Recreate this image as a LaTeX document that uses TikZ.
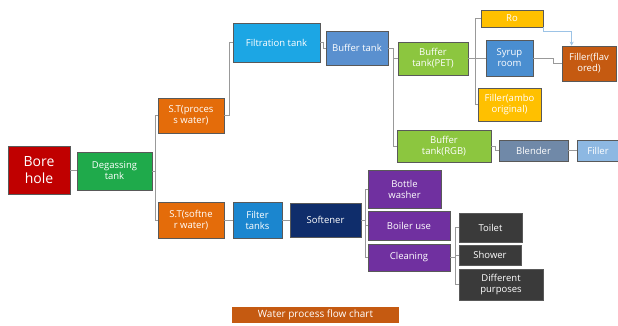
\documentclass[tikz,border=0pt]{standalone}
\usepackage{fontspec}
\setmainfont{Open Sans}
\usetikzlibrary{calc,arrows.meta}
\definecolor{cBore}{HTML}{C00000}
\definecolor{cDegas}{HTML}{1FAA4B}
\definecolor{cOrange}{HTML}{E46C0A}
\definecolor{cFilt}{HTML}{1CA6E4}
\definecolor{cBuf}{HTML}{5A90CF}
\definecolor{cLGreen}{HTML}{8CC63F}
\definecolor{cGold}{HTML}{FFC000}
\definecolor{cSyrup}{HTML}{4A8ED0}
\definecolor{cBrown}{HTML}{C55A11}
\definecolor{cBlender}{HTML}{7089A8}
\definecolor{cFiller}{HTML}{8DB8E2}
\definecolor{cFtank}{HTML}{1B86CF}
\definecolor{cSoft}{HTML}{0F2D6B}
\definecolor{cPurple}{HTML}{7030A0}
\definecolor{cDark}{HTML}{3A3A3A}
\definecolor{cLine}{HTML}{999999}
\definecolor{cArrow}{HTML}{9CC3E6}
\begin{document}
\begin{tikzpicture}[x=1pt,y=-1pt,
  box/.style={draw=black!65, line width=0.7pt, text=white, inner sep=0pt, align=center,
    font=\fontsize{9.5}{11}\selectfont},
  conn/.style={draw=cLine, line width=0.9pt},
]
\useasboundingbox[fill=white] (0,0) rectangle (618,325);
% nodes
\node[box, fill=cBore, minimum width=62pt, minimum height=48pt, font=\fontsize{14}{17}\selectfont] (bore) at (39,170) {Bore\\hole};
\node[box, fill=cDegas, minimum width=75pt, minimum height=38pt] (degas) at (114.5,171) {Degassing\\tank};
\node[box, fill=cOrange, minimum width=66pt, minimum height=35pt] (stp) at (191,115.5) {S.T(proces\\s water)};
\node[box, fill=cOrange, minimum width=66pt, minimum height=36pt] (sts) at (191,220) {S.T(softne\\r water)};
\node[box, fill=cFilt, minimum width=87pt, minimum height=39pt] (filt) at (276.5,42.5) {Filtration tank};
\node[box, fill=cBuf, minimum width=62pt, minimum height=34pt] (buf) at (357,48) {Buffer tank};
\node[box, fill=cLGreen, minimum width=70pt, minimum height=33pt] (pet) at (433,58.5) {Buffer\\tank(PET)};
\node[box, fill=cGold, minimum width=62pt, minimum height=17pt] (ro) at (512,18.5) {Ro};
\node[box, fill=cSyrup, minimum width=47pt, minimum height=36pt] (syrup) at (509.5,58) {Syrup\\room};
\node[box, fill=cBrown, minimum width=54pt, minimum height=35pt] (flav) at (589,63.5) {Filler(flav\\ored)};
\node[box, fill=cGold, minimum width=63pt, minimum height=33pt] (ambo) at (509.5,104.5) {Filler(ambo\\original)};
\node[box, fill=cLGreen, minimum width=94pt, minimum height=32pt] (rgb) at (444,146) {Buffer\\tank(RGB)};
\node[box, fill=cBlender, minimum width=69pt, minimum height=21pt] (blender) at (533.5,150.5) {Blender};
\node[box, fill=cFiller, minimum width=42pt, minimum height=21pt] (filler) at (598,150.5) {Filler};
\node[box, fill=cFtank, minimum width=49pt, minimum height=36pt] (ftanks) at (257.5,220) {Filter\\tanks};
\node[box, fill=cSoft, minimum width=71pt, minimum height=34pt] (soft) at (325.5,220) {Softener};
\node[box, fill=cPurple, minimum width=73pt, minimum height=38pt] (bottle) at (404.5,189) {Bottle\\washer};
\node[box, fill=cPurple, minimum width=82pt, minimum height=29pt] (boiler) at (409,225.5) {Boiler use};
\node[box, fill=cPurple, minimum width=82pt, minimum height=27pt] (clean) at (409,257.5) {Cleaning};
\node[box, fill=cDark, minimum width=63pt, minimum height=29pt] (toilet) at (490.5,227.5) {Toilet};
\node[box, fill=cDark, minimum width=62pt, minimum height=20pt] (shower) at (490,255) {Shower};
\node[box, fill=cDark, minimum width=84pt, minimum height=31pt] (diff) at (501,284.5) {Different\\purposes};
\node[box, draw=none, fill=cBrown, minimum width=167pt, minimum height=16pt, font=\fontsize{10}{12}\selectfont] (title) at (315.5,315) {Water process flow chart};
% connectors
\draw[conn] (bore.east) -- (bore.east -| degas.west);
\draw[conn] (degas.east) -- +(3,0) |- (stp.west);
\draw[conn] (degas.east) -- +(3,0) |- (sts.west);
\draw[conn] (stp.east) -- +(5,0) |- (filt.west);
\draw[conn] (filt.east) -- +(3,0) |- (buf.west);
\draw[conn] (buf.east) -- +(5,0) |- (pet.west);
\draw[conn] (buf.east) -- +(5,0) |- (rgb.west);
\draw[conn] (pet.east) -- +(7,0) |- (ro.west);
\draw[conn] (pet.east) -- +(7,0) |- (syrup.west);
\draw[conn] (pet.east) -- +(7,0) |- (ambo.west);
\draw[conn] (syrup.east) -- +(20,0) |- (flav.west);
\draw[draw=cArrow, line width=0.9pt, -{Stealth[length=4pt,width=4pt]}] (ro.south east) -- +(0,4) -| ($(flav.north west)+(10,0)$);
\draw[conn] (rgb.east) -- +(4,0) |- (blender.west);
\draw[conn] (blender.east) -- (filler.west);
\draw[conn] (sts.east) -- (ftanks.west);
\draw[conn] (ftanks.east) -- (soft.west);
\draw[conn] (soft.east) -- +(4,0) |- (bottle.west);
\draw[conn] (soft.east) -- +(4,0) |- (boiler.west);
\draw[conn] (soft.east) -- +(4,0) |- (clean.west);
\draw[conn] (clean.east) -- +(5,0) |- (toilet.west);
\draw[conn] (clean.east) -- +(5,0) |- (shower.west);
\draw[conn] (clean.east) -- +(5,0) |- (diff.west);
\end{tikzpicture}
\end{document}
